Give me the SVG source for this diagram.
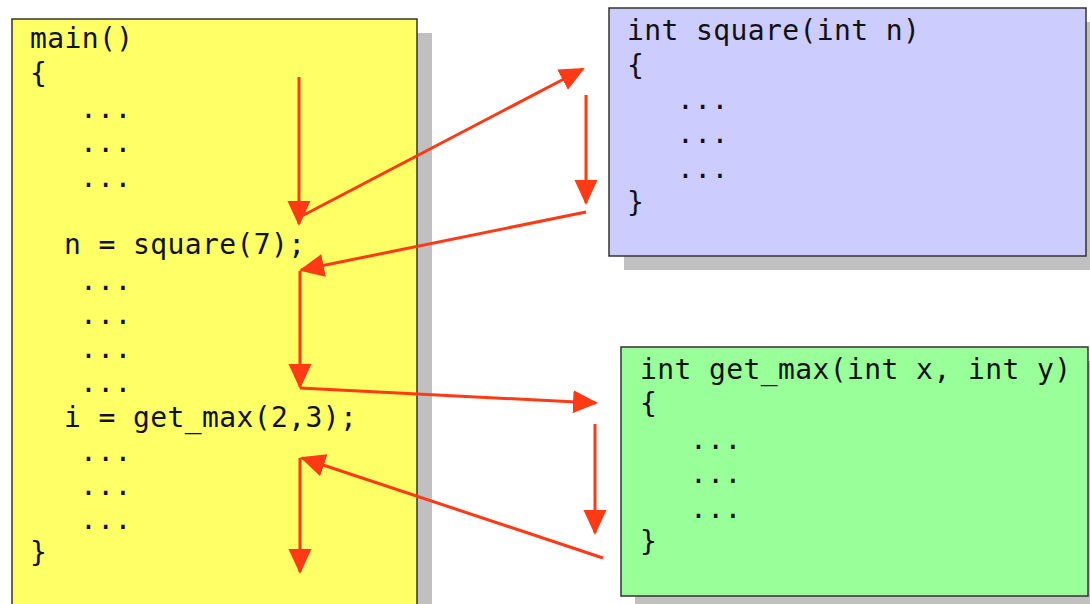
<svg xmlns="http://www.w3.org/2000/svg" width="1090" height="604" viewBox="0 0 1090 604">
<defs>
<style>
.code{font-family:"DejaVu Sans Mono","Liberation Mono",monospace;font-size:28px;letter-spacing:0.4px;fill:#111;white-space:pre}
.box{stroke:#333;stroke-width:1.5}
.shadow{fill:#c0c0c0}
.flow{stroke:#ff3a14;stroke-width:3;fill:none;marker-end:url(#ah)}
</style>
<marker id="ah" markerUnits="userSpaceOnUse" markerWidth="27" markerHeight="26" viewBox="0 0 27 26" refX="23" refY="13" orient="auto">
<path d="M0,1.5 L25,13 L0,24.5 z" fill="#ff3a14"/>
</marker>
</defs>
<rect width="1090" height="604" fill="#fff"/>
<g id="main">
<rect class="shadow" x="27" y="33" width="405" height="600"/>
<rect class="box" x="12" y="19" width="405" height="600" fill="#ffff66"/>
<text class="code" x="30" y="48">main()</text>
<text class="code" x="30" y="83">{</text>
<text class="code" x="80" y="118">...</text>
<text class="code" x="80" y="152">...</text>
<text class="code" x="80" y="187">...</text>
<text class="code" x="64" y="254">n = square(7);</text>
<text class="code" x="80" y="290">...</text>
<text class="code" x="80" y="324">...</text>
<text class="code" x="80" y="358">...</text>
<text class="code" x="80" y="392">...</text>
<text class="code" x="64" y="427">i = get_max(2,3);</text>
<text class="code" x="80" y="461">...</text>
<text class="code" x="80" y="495">...</text>
<text class="code" x="80" y="529">...</text>
<text class="code" x="30" y="562">}</text>
</g>
<g id="square">
<rect class="shadow" x="624" y="22" width="477" height="248"/>
<rect class="box" x="609" y="8" width="477" height="248" fill="#ccccff"/>
<text class="code" x="627" y="40">int square(int n)</text>
<text class="code" x="627" y="75">{</text>
<text class="code" x="677" y="109">...</text>
<text class="code" x="677" y="143">...</text>
<text class="code" x="677" y="178">...</text>
<text class="code" x="627" y="212">}</text>
</g>
<g id="get_max">
<rect class="shadow" x="635" y="361" width="467" height="249"/>
<rect class="box" x="621" y="347" width="467" height="249" fill="#99ff99"/>
<text class="code" x="640" y="379">int get_max(int x, int y)</text>
<text class="code" x="640" y="413">{</text>
<text class="code" x="690" y="449">...</text>
<text class="code" x="690" y="483">...</text>
<text class="code" x="690" y="518">...</text>
<text class="code" x="640" y="551">}</text>
</g>
<g id="connectors">
<line class="flow" x1="299" y1="77" x2="299" y2="224"/>
<line class="flow" x1="300" y1="217" x2="583" y2="69"/>
<line class="flow" x1="586" y1="95" x2="586" y2="203"/>
<line class="flow" x1="586" y1="212" x2="301" y2="270"/>
<line class="flow" x1="300" y1="271" x2="300" y2="387"/>
<line class="flow" x1="300" y1="388" x2="596" y2="403"/>
<line class="flow" x1="595" y1="424" x2="595" y2="533"/>
<line class="flow" x1="603" y1="558" x2="302" y2="458"/>
<line class="flow" x1="300" y1="458" x2="300" y2="572"/>
</g>
</svg>
